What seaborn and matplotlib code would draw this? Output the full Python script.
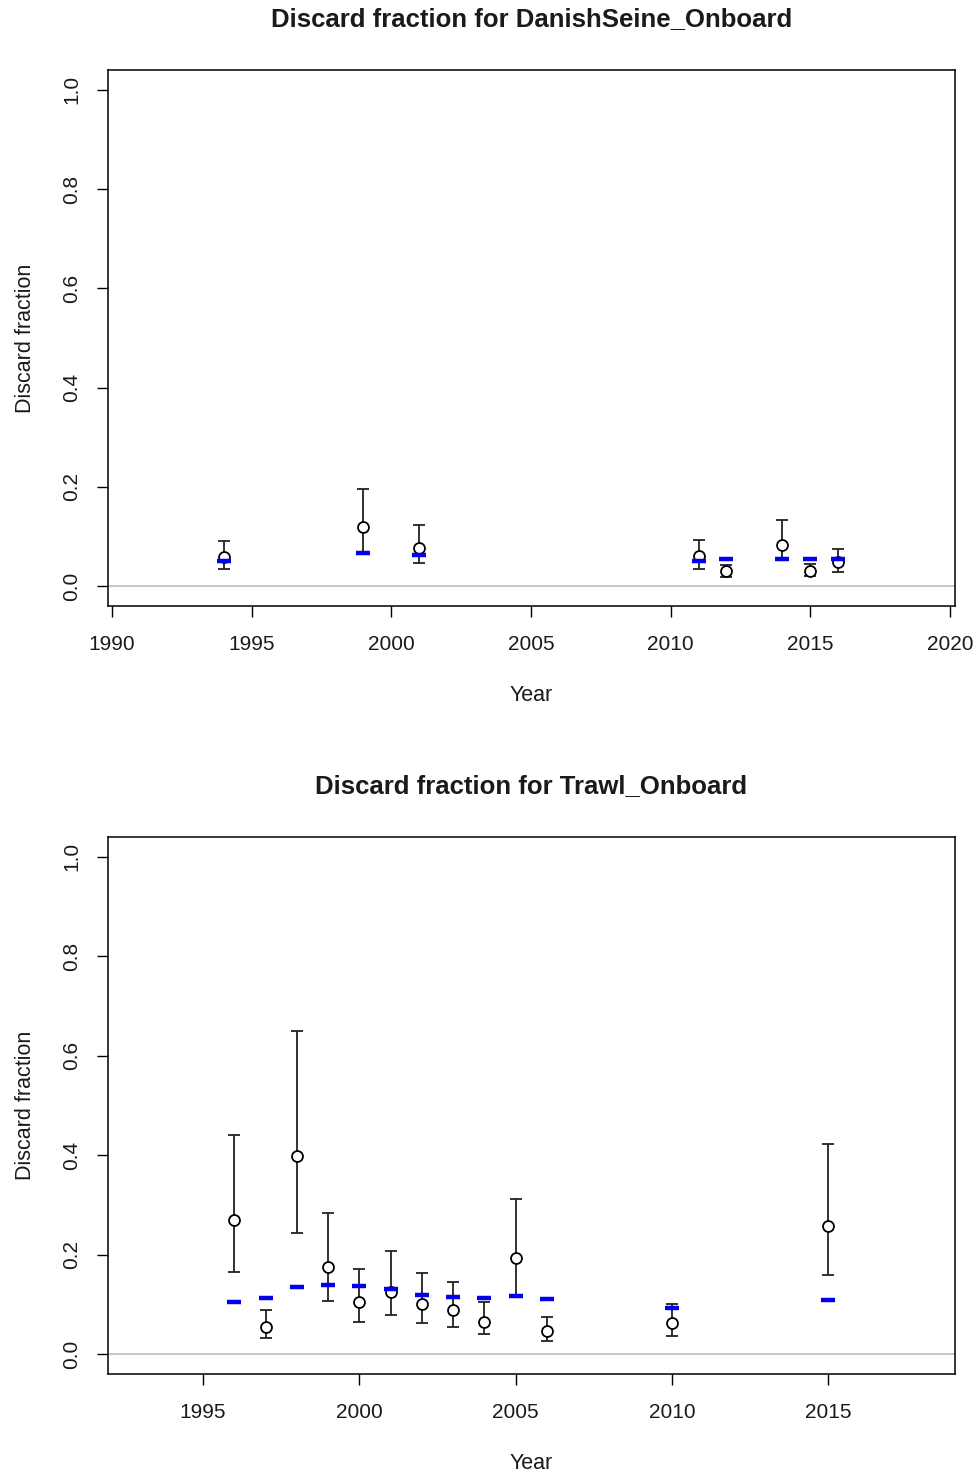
import numpy as np
import pandas as pd
import matplotlib
matplotlib.use("Agg")
import matplotlib.pyplot as plt
import seaborn as sns

# -------------------- Data --------------------
# DanishSeine_Onboard
ds_years = [1994, 1999, 2001, 2011, 2012, 2014, 2015, 2016]
ds_obs = [0.058, 0.120, 0.076, 0.060, 0.030, 0.083, 0.031, 0.048]
ds_lo = [0.034, 0.067, 0.047, 0.034, 0.019, 0.054, 0.020, 0.029]
ds_hi = [0.092, 0.196, 0.123, 0.094, 0.042, 0.133, 0.045, 0.075]
ds_exp = [0.051, 0.067, 0.062, 0.051, 0.054, 0.054, 0.054, 0.054]

# Trawl_Onboard
tr_years = [1996, 1997, 1998, 1999, 2000, 2001, 2002, 2003, 2004, 2005, 2006, 2010, 2015]
tr_obs = [0.270, 0.055, 0.398, 0.176, 0.105, 0.125, 0.101, 0.089, 0.064, 0.193, 0.046, 0.062, 0.258]
tr_lo = [0.166, 0.033, 0.243, 0.107, 0.064, 0.078, 0.062, 0.054, 0.040, 0.117, 0.027, 0.036, 0.159]
tr_hi = [0.440, 0.089, 0.650, 0.283, 0.171, 0.207, 0.164, 0.146, 0.104, 0.312, 0.074, 0.100, 0.422]
tr_exp = [0.104, 0.113, 0.135, 0.140, 0.138, 0.131, 0.119, 0.114, 0.112, 0.117, 0.111, 0.093, 0.109]

ds_xticks = [1990, 1995, 2000, 2005, 2010, 2015, 2020]
tr_xticks = [1995, 2000, 2005, 2010, 2015]
y_ticks = [0.0, 0.2, 0.4, 0.6, 0.8, 1.0]

sns.set_style("white")
plt.rcParams['font.family'] = ['Liberation Sans', 'DejaVu Sans']
plt.rcParams['text.color'] = '#1a1a1a'
plt.rcParams['axes.labelcolor'] = '#1a1a1a'
plt.rcParams['xtick.color'] = '#1a1a1a'
plt.rcParams['ytick.color'] = '#1a1a1a'

fig = plt.figure(figsize=(9.78, 14.76), dpi=100)
ax1 = fig.add_axes([0.1104, 0.5894, 0.8661, 0.3632])
ax2 = fig.add_axes([0.1104, 0.0691, 0.8661, 0.3638])


def panel(ax, name, years, obs, lo, hi, exp, xticks, xlim):
    df = pd.DataFrame({'Year': years, 'obs': obs, 'lo': lo, 'hi': hi, 'exp': exp})
    ax.axhline(0, color='#BEBEBE', lw=1.2, zorder=1)
    err = np.vstack([df['obs'] - df['lo'], df['hi'] - df['obs']])
    ax.errorbar(df['Year'], df['obs'], yerr=err, fmt='none', ecolor='#222222',
                elinewidth=1.3, capsize=4.5, capthick=1.3, zorder=2)
    sns.scatterplot(data=df, x='Year', y='obs', ax=ax, marker='o', s=62,
                    facecolor='white', edgecolor='black', linewidth=1.3, zorder=3)
    sns.scatterplot(data=df, x='Year', y='exp', ax=ax, marker='_', s=110,
                    color='#0000EE', linewidth=3.2, zorder=4)
    ax.set_xlim(*xlim)
    ax.set_ylim(-0.04, 1.04)
    ax.set_xticks(xticks)
    ax.set_xticklabels([str(t) for t in xticks], fontsize=15)
    ax.set_yticks(y_ticks)
    ax.set_yticklabels([f"{t:.1f}" for t in y_ticks], fontsize=15,
                       rotation=90, va='center')
    ax.tick_params(axis='both', direction='out', length=8, width=1, color='black',
                   left=True, bottom=True)
    ax.tick_params(axis='x', pad=13)
    ax.tick_params(axis='y', pad=11)
    for s in ax.spines.values():
        s.set_visible(True)
        s.set_color('black')
        s.set_linewidth(1.1)
    ax.set_xlabel('Year', fontsize=15.5, labelpad=22)
    ax.set_ylabel('Discard fraction', fontsize=15.5, labelpad=19)
    ax.set_title(f'Discard fraction for {name}', fontsize=18.5, fontweight='bold', pad=31.5)


panel(ax1, 'DanishSeine_Onboard', ds_years, ds_obs, ds_lo, ds_hi, ds_exp,
      ds_xticks, (1989.86, 2020.18))
panel(ax2, 'Trawl_Onboard', tr_years, tr_obs, tr_lo, tr_hi, tr_exp,
      tr_xticks, (1991.96, 2019.05))

fig.savefig('out.png', dpi=100)
